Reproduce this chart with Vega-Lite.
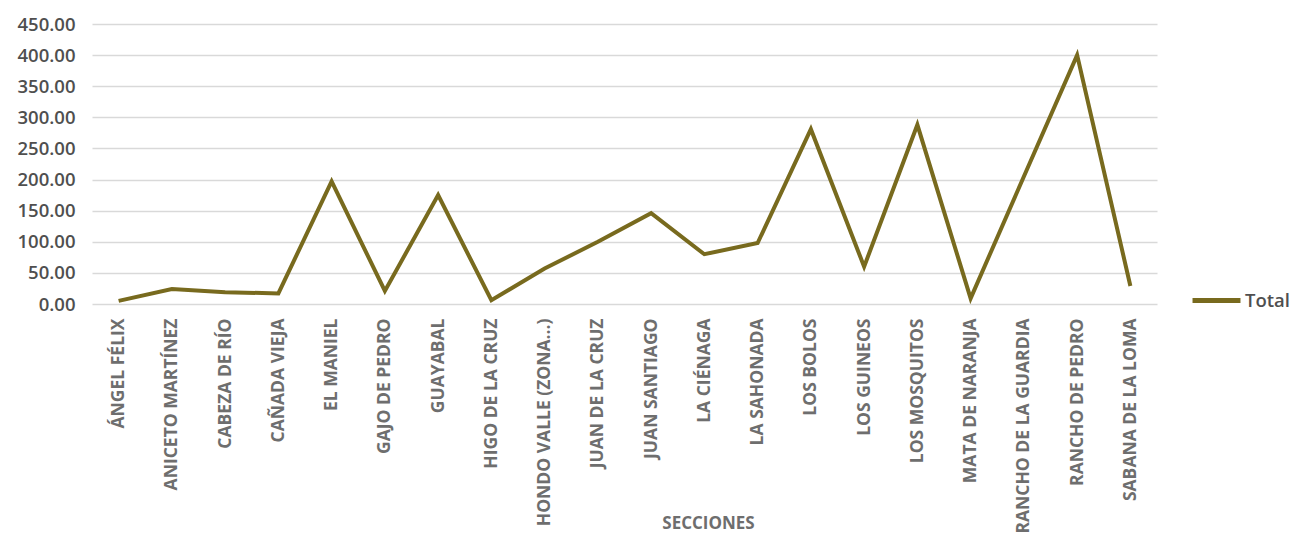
{
  "$schema": "https://vega.github.io/schema/vega-lite/v6.json",
  "autosize": "none",
  "width": 1065,
  "height": 280,
  "padding": {"left": 92, "top": 24, "right": 137, "bottom": 235},
  "background": "white",
  "config": {
    "view": {"stroke": null},
    "font": "Open Sans"
  },
  "data": {
    "values": [
      {"seccion": "ÁNGEL FÉLIX", "total": 5, "serie": "Total"},
      {"seccion": "ANICETO MARTÍNEZ", "total": 24, "serie": "Total"},
      {"seccion": "CABEZA DE RÍO", "total": 19, "serie": "Total"},
      {"seccion": "CAÑADA VIEJA", "total": 17, "serie": "Total"},
      {"seccion": "EL MANIEL", "total": 197, "serie": "Total"},
      {"seccion": "GAJO DE PEDRO", "total": 21, "serie": "Total"},
      {"seccion": "GUAYABAL", "total": 175, "serie": "Total"},
      {"seccion": "HIGO DE LA CRUZ", "total": 6, "serie": "Total"},
      {"seccion": "HONDO VALLE (ZONA...)", "total": 57, "serie": "Total"},
      {"seccion": "JUAN DE LA CRUZ", "total": 100, "serie": "Total"},
      {"seccion": "JUAN SANTIAGO", "total": 146, "serie": "Total"},
      {"seccion": "LA CIÉNAGA", "total": 80, "serie": "Total"},
      {"seccion": "LA SAHONADA", "total": 98, "serie": "Total"},
      {"seccion": "LOS BOLOS", "total": 281, "serie": "Total"},
      {"seccion": "LOS GUINEOS", "total": 60, "serie": "Total"},
      {"seccion": "LOS MOSQUITOS", "total": 288, "serie": "Total"},
      {"seccion": "MATA DE NARANJA", "total": 9, "serie": "Total"},
      {"seccion": "RANCHO DE LA GUARDIA", "total": 205, "serie": "Total"},
      {"seccion": "RANCHO DE PEDRO", "total": 400, "serie": "Total"},
      {"seccion": "SABANA DE LA LOMA", "total": 29, "serie": "Total"}
    ]
  },
  "mark": {"type": "line", "strokeWidth": 4, "strokeJoin": "miter", "strokeCap": "butt"},
  "encoding": {
    "x": {
      "field": "seccion",
      "type": "nominal",
      "sort": null,
      "scale": {"type": "point", "padding": 0.5},
      "axis": {
        "title": "SECCIONES",
        "titleFont": "Open Sans",
        "titleFontSize": 17,
        "titleFontWeight": "bold",
        "titleColor": "#6e6e6e",
        "titleX": 616,
        "titleY": 224,
        "titleBaseline": "alphabetic",
        "labelAngle": -90,
        "labelAlign": "right",
        "labelBaseline": "middle",
        "labelFont": "Open Sans",
        "labelFontSize": 17.5,
        "labelFontWeight": "bold",
        "labelColor": "#6e6e6e",
        "labelPadding": 14,
        "labelLimit": 400,
        "labelOverlap": false,
        "ticks": false,
        "domain": false,
        "grid": false
      }
    },
    "y": {
      "field": "total",
      "type": "quantitative",
      "scale": {"domain": [0, 450], "nice": false},
      "axis": {
        "title": null,
        "values": [0, 50, 100, 150, 200, 250, 300, 350, 400, 450],
        "format": ".2f",
        "labelFont": "Open Sans",
        "labelFontSize": 18.5,
        "labelFontWeight": 600,
        "labelColor": "#4f4f4f",
        "labelPadding": 17,
        "ticks": false,
        "domain": false,
        "grid": true,
        "gridColor": "#d9d9d9",
        "gridWidth": 1.5
      }
    },
    "color": {
      "field": "serie",
      "type": "nominal",
      "scale": {"range": ["#786a1e"]},
      "legend": {
        "title": null,
        "orient": "none",
        "legendX": 1098,
        "legendY": 250,
        "symbolType": "stroke",
        "symbolSize": 2300,
        "symbolStrokeWidth": 5,
        "labelFont": "Open Sans",
        "labelFontSize": 18.5,
        "labelFontWeight": 600,
        "labelColor": "#4f4f4f",
        "labelOffset": 2
      }
    }
  }
}
